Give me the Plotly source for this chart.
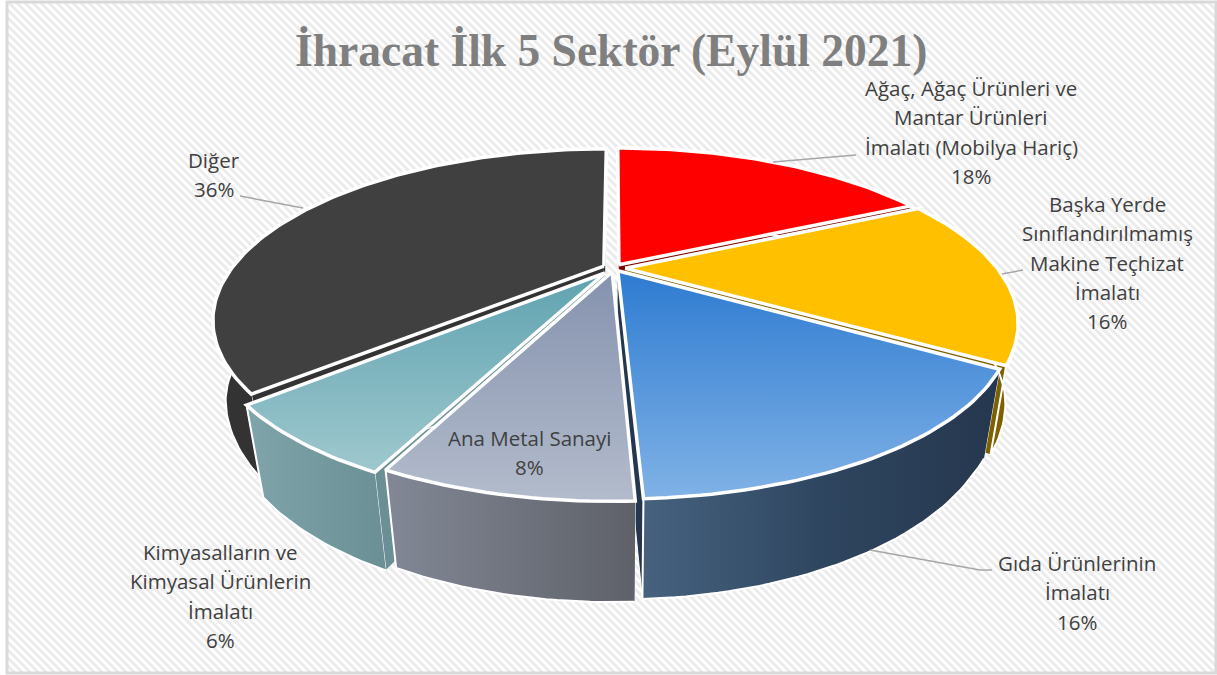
import math
import plotly.graph_objects as go

TITLE = "İhracat İlk 5 Sektör (Eylül 2021)"
sector_lines = [
    ["Ağaç, Ağaç Ürünleri ve", "Mantar Ürünleri", "İmalatı (Mobilya Hariç)"],
    ["Başka Yerde", "Sınıflandırılmamış", "Makine Teçhizat", "İmalatı"],
    ["Gıda Ürünlerinin", "İmalatı"],
    ["Ana Metal Sanayi"],
    ["Kimyasalların ve", "Kimyasal Ürünlerin", "İmalatı"],
    ["Diğer"],
]
values = [17.8, 16.0, 15.5, 7.8, 6.4, 36.5]

explode = [0.025, 0.03, 0.02, 0.025, 0.04, 0.03]
label_cx = [971, 1107, 1077, 529, 220, 214]
label_y0 = [88, 204, 563, 438, 552, 160]
line_gap = 29.3
top_fill = ["#FF0000", "#FFC000", ("#80B2E6", "#2E7BD1"), ("#B3BCCC", "#8592AE"), ("#9FC8CE", "#5FA3B0"), "#404040"]
wall_fill = ["#7F0000", "#7F6000", ("#46627F", "#2F4660", "#25374E"), ("#828896", "#5E6168"), ("#7FA4AA", "#6A9096"), "#333333"]
draw_order = [0, 5, 1, 4, 2, 3]
leaders = [
    ([773, 856], [162, 155]),
    ([1002, 1023], [274, 270]),
    ([870, 980, 992], [550, 570, 570]),
    ([303, 240], [208, 196]),
]

CX, CY, A, B, P = 614, 268, 372, 155, 0.312
W, H = 1217, 675


def top(X, Y):
    w = 1 + P * Y
    return CX + A * X / w, CY - B * Y / w


def low(p):
    shrink = 0.97 - 0.015 * min(1.0, max(0.0, (p[1] - 310) / 80))
    return 620 + shrink * (p[0] - 620), 1.085 * p[1] + 58


def fill_kw(spec, kind):
    if isinstance(spec, str):
        return dict(fillcolor=spec)
    n = len(spec) - 1
    scale = [[i / n, c] for i, c in enumerate(spec)]
    return dict(fillgradient=dict(type=kind, colorscale=scale))


def poly(pts, spec, kind, lw, name):
    return go.Scatter(
        x=[p[0] for p in pts], y=[p[1] for p in pts], mode="lines", fill="toself",
        line=dict(color="white", width=lw), hoverinfo="skip", showlegend=False, name=name,
        **fill_kw(spec, kind),
    )


# slice geometry from the values
total = sum(values)
starts, c = [], 0.0
for v in values:
    starts.append(c)
    c += v
geom = []
for v, s, e in zip(values, starts, explode):
    t0 = 2 * math.pi * s / total
    t1 = 2 * math.pi * (s + v) / total
    mid = (t0 + t1) / 2
    ox, oy = e * math.sin(mid), e * math.cos(mid)
    n = max(8, int(v * 3))
    arc = [top(ox + math.sin(t0 + (t1 - t0) * i / n), oy + math.cos(t0 + (t1 - t0) * i / n)) for i in range(n + 1)]
    geom.append((top(ox, oy), arc))

fig = go.Figure()

# hatched chart-area background
L, R, T, Bt = 7, 1216, 2, 673
hx, hy = [], []
for c0 in range(L - Bt, R - T, 8):
    y0 = max(T, L - c0)
    y1 = min(Bt, R - c0)
    hx += [y0 + c0, y1 + c0, None]
    hy += [y0, y1, None]
fig.add_trace(go.Scatter(x=hx, y=hy, mode="lines", line=dict(color="#EBEBEB", width=3),
                         hoverinfo="skip", showlegend=False, name="hatch"))

# walls
for i in draw_order:
    apex, arc = geom[i]
    wall = arc + [low(p) for p in reversed(arc)]
    for edge in (arc[0], arc[-1]):
        inner = [apex, edge, low(edge), low(apex)]
        fig.add_trace(poly(inner, wall_fill[i] if isinstance(wall_fill[i], str) else wall_fill[i][-1],
                           "horizontal", 1, "inner wall"))
    fig.add_trace(poly(wall, wall_fill[i], "horizontal", 2, "outer wall"))

# tops
for i in range(len(values)):
    apex, arc = geom[i]
    fig.add_trace(poly([apex] + arc + [apex], top_fill[i], "vertical", 3.5, sector_lines[i][0]))

# leaders
for lx, ly in leaders:
    fig.add_trace(go.Scatter(x=lx, y=ly, mode="lines", line=dict(color="#A6A6A6", width=1.5),
                             hoverinfo="skip", showlegend=False))

ann = []
for lines, v, cx, y0 in zip(sector_lines, values, label_cx, label_y0):
    for j, t in enumerate(lines + [f"{round(v)}%"]):
        ann.append(dict(x=cx, y=y0 + j * line_gap, text=t, showarrow=False, xref="x", yref="y",
                        font=dict(family="Open Sans", size=20.5, color="#404040")))
ann.append(dict(x=611, y=50, text=f"<b>{TITLE}</b>", showarrow=False, xref="x", yref="y",
                font=dict(family="Liberation Serif", size=45.5, color="#7F7F7F")))

fig.update_layout(
    width=W, height=H, margin=dict(l=0, r=0, t=0, b=0), showlegend=False,
    paper_bgcolor="white", plot_bgcolor="white",
    xaxis=dict(range=[0, W], visible=False, fixedrange=True),
    yaxis=dict(range=[H, 0], visible=False, fixedrange=True),
    annotations=ann,
    shapes=[dict(type="rect", x0=L, x1=R, y0=T, y1=Bt, line=dict(color="#D9D9D9", width=3), layer="above")],
)
fig.write_html("out.html", config=dict(displayModeBar=False), post_script="document.body.style.margin='0';")
